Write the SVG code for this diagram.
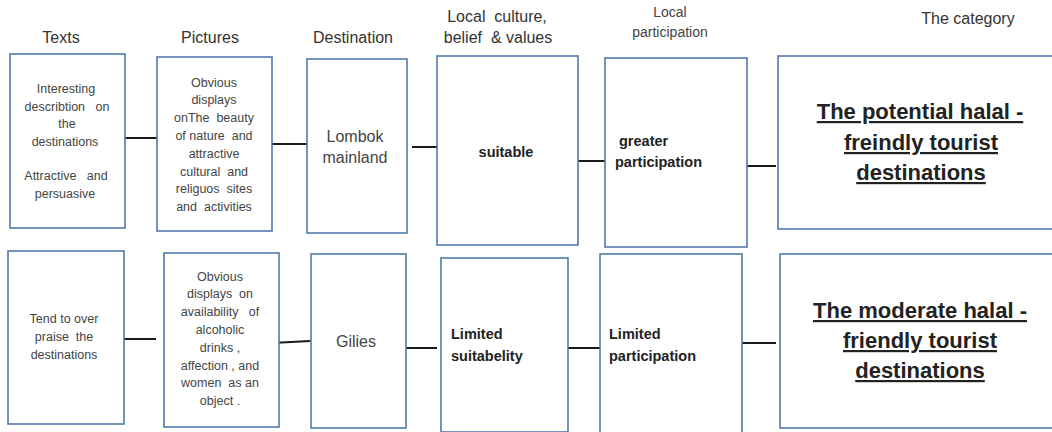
<svg xmlns="http://www.w3.org/2000/svg" width="1052" height="432" viewBox="0 0 1052 432" xml:space="preserve">
<style>
text{white-space:pre}
.box{fill:#fff;stroke:#4f79ad;stroke-width:1.6}
.con{stroke:#1a1a1a;stroke-width:2;fill:none}
.hd{font-family:"Liberation Sans",Arial,sans-serif;font-size:16px;fill:#333;text-anchor:middle}
.hs{font-family:"Liberation Sans",Arial,sans-serif;font-size:14px;fill:#444;text-anchor:middle}
.sm{font-family:"Liberation Sans",Arial,sans-serif;font-size:12.5px;fill:#444;text-anchor:middle}
.md{font-family:"Liberation Sans",Arial,sans-serif;font-size:16px;fill:#444;text-anchor:middle}
.bd{font-family:"Liberation Sans",Arial,sans-serif;font-size:14.5px;font-weight:bold;fill:#222}
.big{font-family:"Liberation Sans",Arial,sans-serif;font-size:22px;font-weight:bold;fill:#222;text-anchor:middle;text-decoration:underline}
</style>
<rect width="1052" height="432" fill="#fff"/>
<g id="headers">
<text class="hd" x="61" y="43">Texts</text>
<text class="hd" x="210" y="43">Pictures</text>
<text class="hd" x="353" y="43">Destination</text>
<text class="hd" x="497" y="22">Local  culture,</text>
<text class="hd" x="498" y="43">belief  &amp; values</text>
<text class="hs" x="670" y="17">Local</text>
<text class="hs" x="670" y="37">participation</text>
<text class="hd" x="968" y="24">The category</text>
</g>
<g id="connectors">
<line class="con" x1="122" y1="138" x2="157" y2="138"/>
<line class="con" x1="272" y1="144" x2="307" y2="144"/>
<line class="con" x1="412" y1="147" x2="446" y2="147"/>
<line class="con" x1="577" y1="161" x2="605" y2="161"/>
<line class="con" x1="741" y1="166" x2="776" y2="166"/>
<line class="con" x1="121" y1="339" x2="156" y2="339"/>
<line class="con" x1="272" y1="343" x2="310" y2="341"/>
<line class="con" x1="403" y1="348" x2="437" y2="348"/>
<line class="con" x1="566" y1="348" x2="600" y2="348"/>
<line class="con" x1="741" y1="343" x2="776" y2="343"/>
</g>
<g id="texts-top">
<rect class="box" x="10" y="54" width="115" height="174"/>
<text class="sm" x="66" y="93">Interesting</text>
<text class="sm" x="67" y="111">describtion   on</text>
<text class="sm" x="67" y="128">the</text>
<text class="sm" x="65" y="146">destinations</text>
<text class="sm" x="66" y="180">Attractive   and</text>
<text class="sm" x="65" y="198">persuasive</text>
</g>
<g id="pictures-top">
<rect class="box" x="157" y="57" width="115" height="174"/>
<text class="sm" x="214" y="87">Obvious</text>
<text class="sm" x="214" y="104">displays</text>
<text class="sm" x="214" y="122">onThe  beauty</text>
<text class="sm" x="214" y="140">of nature  and</text>
<text class="sm" x="214" y="158">attractive</text>
<text class="sm" x="214" y="176">cultural  and</text>
<text class="sm" x="214" y="193">religuos  sites</text>
<text class="sm" x="214" y="211">and  activities</text>
</g>
<g id="destination-top">
<rect class="box" x="307" y="59" width="100" height="174"/>
<text class="md" x="355" y="142">Lombok</text>
<text class="md" x="355" y="163">mainland</text>
</g>
<g id="culture-top">
<rect class="box" x="437" y="56" width="141" height="189"/>
<text class="bd" x="506" y="157" text-anchor="middle">suitable</text>
</g>
<g id="participation-top">
<rect class="box" x="605" y="58" width="142" height="189"/>
<text class="bd" x="619" y="146">greater</text>
<text class="bd" x="615" y="167">participation</text>
</g>
<g id="category-top">
<rect class="box" x="778" y="56" width="290" height="173"/>
<text class="big" x="920" y="119">The potential halal -</text>
<text class="big" x="921" y="150">freindly tourist</text>
<text class="big" x="921" y="180">destinations</text>
</g>
<g id="texts-bottom">
<rect class="box" x="8" y="251" width="116" height="173"/>
<text class="sm" x="64" y="323">Tend to over</text>
<text class="sm" x="64" y="341">praise  the</text>
<text class="sm" x="64" y="359">destinations</text>
</g>
<g id="pictures-bottom">
<rect class="box" x="164" y="253" width="115" height="174"/>
<text class="sm" x="220" y="281">Obvious</text>
<text class="sm" x="220" y="298">displays  on</text>
<text class="sm" x="220" y="316">availability   of</text>
<text class="sm" x="220" y="334">alcoholic</text>
<text class="sm" x="220" y="352">drinks ,</text>
<text class="sm" x="220" y="370">affection , and</text>
<text class="sm" x="220" y="387">women  as an</text>
<text class="sm" x="220" y="405">object .</text>
</g>
<g id="destination-bottom">
<rect class="box" x="311" y="254" width="95" height="174"/>
<text class="md" x="356" y="347">Gilies</text>
</g>
<g id="culture-bottom">
<rect class="box" x="441" y="258" width="127" height="174"/>
<text class="bd" x="451" y="339">Limited</text>
<text class="bd" x="451" y="361">suitabelity</text>
</g>
<g id="participation-bottom">
<rect class="box" x="600" y="254" width="142" height="182"/>
<text class="bd" x="609" y="339">Limited</text>
<text class="bd" x="609" y="361">participation</text>
</g>
<g id="category-bottom">
<rect class="box" x="780" y="254" width="290" height="174"/>
<text class="big" x="920" y="318">The moderate halal -</text>
<text class="big" x="920" y="348">friendly tourist</text>
<text class="big" x="920" y="378">destinations</text>
</g>
</svg>
